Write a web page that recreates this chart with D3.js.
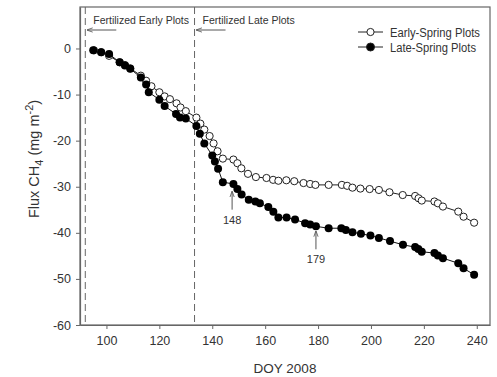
<!DOCTYPE html>
<html>
<head>
<meta charset="utf-8">
<script src="https://cdn.jsdelivr.net/npm/d3@7"></script>
<style>
  body { margin: 0; background: #fff; }
  svg { font-family: "Liberation Sans", Arial, sans-serif; }
</style>
</head>
<body>
<div id="chart"></div>
<script>
// Early-spring plots (open circles): [DOY, cumulative flux]
var earlySpring = [
  [95.3, -0.4], [98, -0.8], [101, -1.6], [105, -3.0], [107, -3.6], [109, -4.3],
  [113, -5.9], [115, -7.0], [117, -8.2], [120, -9.5], [122, -10.4], [124, -11.0],
  [126.5, -11.9], [128, -12.8], [130, -13.6], [134, -15.0], [135.5, -16.3], [137, -17.6],
  [139, -19.0], [140.5, -20.6], [142, -22.3], [144, -23.9], [148, -24.1], [149.5, -24.9],
  [151, -26.0], [153.5, -27.2], [156.5, -27.9], [160.5, -28.1], [163, -28.5], [165, -28.7],
  [168, -28.6], [171, -28.8], [174.5, -29.2], [177, -29.4], [179, -29.6], [184, -29.6],
  [189, -29.6], [191, -29.8], [193, -30.2], [196, -30.4], [199.5, -30.5], [203, -30.7],
  [207, -31.2], [212, -31.8], [216.7, -32.0], [218, -32.5], [219.2, -33.0], [224, -33.2],
  [225.3, -33.6], [227.2, -34.3], [233, -35.4], [235, -36.5], [239, -37.8]
];

// Late-spring plots (filled circles)
var lateSpring = [
  [95, -0.4], [98, -0.8], [101, -1.2], [105, -3.0], [107, -3.7], [109, -4.4],
  [113, -6.3], [115, -7.8], [116, -9.5], [120, -11.1], [122, -12.5], [126.3, -14.2],
  [127.8, -15.0], [130, -15.2], [134, -16.8], [135.3, -18.5], [137, -20.6], [140, -23.2],
  [141, -24.5], [142.2, -26.1], [144, -29.0], [148, -29.4], [149.5, -30.5], [151.1, -31.7],
  [153.8, -32.8], [156.3, -33.2], [158, -33.6], [161.2, -34.4], [163.1, -35.4], [165, -36.7],
  [168.1, -36.7], [171.3, -37.1], [175.1, -37.9], [177, -38.2], [179.2, -38.6], [184, -39.0],
  [188.8, -39.0], [190.5, -39.4], [193, -39.9], [196.2, -40.2], [199.8, -40.6], [203, -41.1],
  [207.2, -41.8], [212.1, -42.6], [216.7, -43.1], [217.9, -43.5], [219.2, -44.1], [224, -44.4],
  [225.3, -44.9], [227.2, -45.5], [233, -46.6], [235, -47.7], [239, -49.1]
];

var xTicks = [100, 120, 140, 160, 180, 200, 220, 240];
var yTicks = [0, -10, -20, -30, -40, -50, -60];
var fertDays = [92, 133.3];          // dashed fertilization lines
var fertLabels = ["Fertilized Early Plots", "Fertilized Late Plots"];
var marks = [[147.5, -30.2, "148"], [179.2, -38.8, "179"]];  // [DOY, value, label]

var W = 497, H = 377;
var margin = { top: 7, right: 7, bottom: 52, left: 80 };
var ink = "#333";

var svg = d3.select("#chart").append("svg")
  .attr("width", W).attr("height", H);

var x = d3.scaleLinear().domain([90, 245]).range([margin.left, W - margin.right]);
var y = d3.scaleLinear().domain([-60, 9]).range([H - margin.bottom, margin.top]);

// frame
svg.append("rect")
  .attr("x", x(90)).attr("y", y(9))
  .attr("width", x(245) - x(90)).attr("height", y(-60) - y(9))
  .attr("fill", "none").attr("stroke", "#666").attr("stroke-width", 1.2);

// axes (plain hyphen minus like the original)
var fmt = function (d) { return String(d); };
var xAxis = svg.append("g")
  .attr("transform", "translate(0," + y(-60) + ")")
  .call(d3.axisBottom(x).tickValues(xTicks).tickFormat(fmt).tickSize(4).tickSizeOuter(0).tickPadding(7));
var yAxis = svg.append("g")
  .attr("transform", "translate(" + x(90) + ",0)")
  .call(d3.axisLeft(y).tickValues(yTicks).tickFormat(fmt).tickSize(4).tickSizeOuter(0).tickPadding(5));

[xAxis, yAxis].forEach(function (g) {
  g.select(".domain").attr("stroke", "#666").attr("stroke-width", 1.2);
  g.selectAll(".tick line").attr("stroke", "#666");
  g.selectAll(".tick text").attr("fill", ink).style("font-size", "12.5px")
    .style("font-family", "Liberation Sans, Arial, sans-serif");
});

// axis titles
svg.append("text")
  .attr("x", (x(90) + x(245)) / 2).attr("y", 373)
  .attr("text-anchor", "middle").attr("fill", ink).style("font-size", "13.5px")
  .text("DOY 2008");

var yt = svg.append("text")
  .attr("transform", "translate(39,159) rotate(-90)")
  .attr("text-anchor", "middle").attr("fill", ink).style("font-size", "14.5px");
yt.append("tspan").text("Flux CH");
yt.append("tspan").attr("dy", 4).style("font-size", "11px").text("4");
yt.append("tspan").attr("dy", -4).text(" (mg m");
yt.append("tspan").attr("dy", -6).style("font-size", "11px").text("-2");
yt.append("tspan").attr("dy", 6).text(")");

// fertilization lines, labels and arrows
svg.append("defs").append("marker")
  .attr("id", "ah").attr("viewBox", "0 0 10 10").attr("refX", 9).attr("refY", 5)
  .attr("markerWidth", 6).attr("markerHeight", 6).attr("orient", "auto-start-reverse")
  .append("path").attr("d", "M0,1.5 L10,5 L0,8.5").attr("fill", "none").attr("stroke", "#555").attr("stroke-width", 1.4);

fertDays.forEach(function (d, i) {
  svg.append("line")
    .attr("x1", x(d)).attr("x2", x(d)).attr("y1", y(9)).attr("y2", y(-60))
    .attr("stroke", "#666").attr("stroke-dasharray", "7,4").attr("stroke-width", 1);
  svg.append("text")
    .attr("x", x(d) + 8).attr("y", 24)
    .attr("fill", ink).style("font-size", "10.5px")
    .text(fertLabels[i]);
  svg.append("line")
    .attr("x1", x(d) + 31).attr("x2", x(d) + 2).attr("y1", 30).attr("y2", 30)
    .attr("stroke", "#555").attr("stroke-width", 1)
    .attr("marker-end", "url(#ah)");
});

// series
var line = d3.line().x(function (d) { return x(d[0]); }).y(function (d) { return y(d[1]); });

svg.append("path").datum(earlySpring).attr("d", line)
  .attr("fill", "none").attr("stroke", "#222").attr("stroke-width", 1);
svg.append("path").datum(lateSpring).attr("d", line)
  .attr("fill", "none").attr("stroke", "#111").attr("stroke-width", 1);

svg.append("g").selectAll("circle").data(earlySpring).enter().append("circle")
  .attr("cx", function (d) { return x(d[0]); })
  .attr("cy", function (d) { return y(d[1]); })
  .attr("r", 3.6).attr("fill", "#fff").attr("stroke", "#222").attr("stroke-width", 1);

svg.append("g").selectAll("circle").data(lateSpring).enter().append("circle")
  .attr("cx", function (d) { return x(d[0]); })
  .attr("cy", function (d) { return y(d[1]); })
  .attr("r", 4).attr("fill", "#000");

// day annotations
marks.forEach(function (m) {
  svg.append("line")
    .attr("x1", x(m[0])).attr("x2", x(m[0]))
    .attr("y1", y(m[1]) + 22).attr("y2", y(m[1]) + 4)
    .attr("stroke", "#555").attr("stroke-width", 1)
    .attr("marker-end", "url(#ah)");
  svg.append("text")
    .attr("x", x(m[0])).attr("y", y(m[1]) + 36)
    .attr("text-anchor", "middle").attr("fill", ink).style("font-size", "11px")
    .text(m[2]);
});

// legend
var legend = [["Early-Spring Plots", false, 90], ["Late-Spring Plots", true, 86]];
legend.forEach(function (l, i) {
  var ly = 32 + i * 15;
  svg.append("line").attr("x1", 358).attr("x2", 383).attr("y1", ly).attr("y2", ly)
    .attr("stroke", "#222").attr("stroke-width", 1);
  svg.append("circle").attr("cx", 370.5).attr("cy", ly).attr("r", l[1] ? 4 : 3.6)
    .attr("fill", l[1] ? "#000" : "#fff").attr("stroke", "#222").attr("stroke-width", 1);
  svg.append("text").attr("x", 390).attr("y", ly + 4.5)
    .attr("fill", ink).style("font-size", "12.5px").attr("textLength", l[2])
    .attr("lengthAdjust", "spacingAndGlyphs").text(l[0]);
});
</script>
</body>
</html>
